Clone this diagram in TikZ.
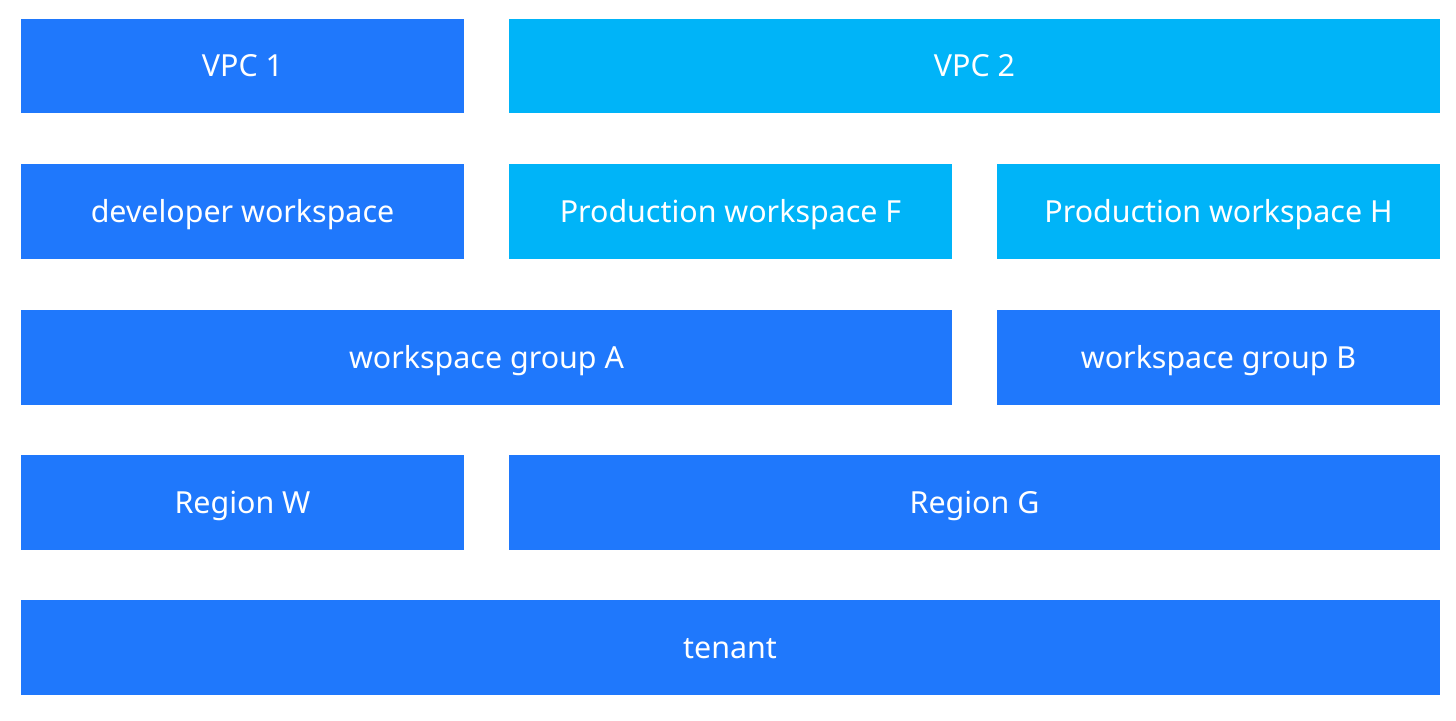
\documentclass[tikz,border=0pt]{standalone}
\usepackage{fontspec}
\setmainfont{Noto Sans}
\definecolor{dblue}{HTML}{1F78FC}
\definecolor{lblue}{HTML}{00B4F8}
\begin{document}
\begin{tikzpicture}[x=1pt,y=-1pt,
  blk/.style={fill=dblue,draw=none,inner sep=0pt,text=white,text height=21.5pt,text depth=0pt,font=\fontsize{30.4}{34}\selectfont},
  lblk/.style={blk,fill=lblue}]
\useasboundingbox[fill=white] (0,0) rectangle (1456,720);
\node[blk,minimum width=443pt,minimum height=94.5pt] (vpc1) at (242.5,66) {VPC 1};
\node[lblk,minimum width=931pt,minimum height=94.5pt] (vpc2) at (974.5,66) {VPC 2};
\node[blk,minimum width=443pt,minimum height=95pt] (dev) at (242.5,211.5) {developer workspace};
\node[lblk,minimum width=443pt,minimum height=95pt] (pf) at (730.5,211.5) {Production workspace F};
\node[lblk,minimum width=443pt,minimum height=95pt] (ph) at (1218.5,211.5) {Production workspace H};
\node[blk,minimum width=931pt,minimum height=95pt] (ga) at (486.5,357.5) {workspace group A};
\node[blk,minimum width=443pt,minimum height=95pt] (gb) at (1218.5,357.5) {workspace group B};
\node[blk,minimum width=443pt,minimum height=95pt] (rw) at (242.5,502.5) {Region W};
\node[blk,minimum width=931pt,minimum height=95pt] (rg) at (974.5,502.5) {Region G};
\node[blk,minimum width=1419pt,minimum height=95pt] (tn) at (730,647.5) {tenant};
\end{tikzpicture}
\end{document}
